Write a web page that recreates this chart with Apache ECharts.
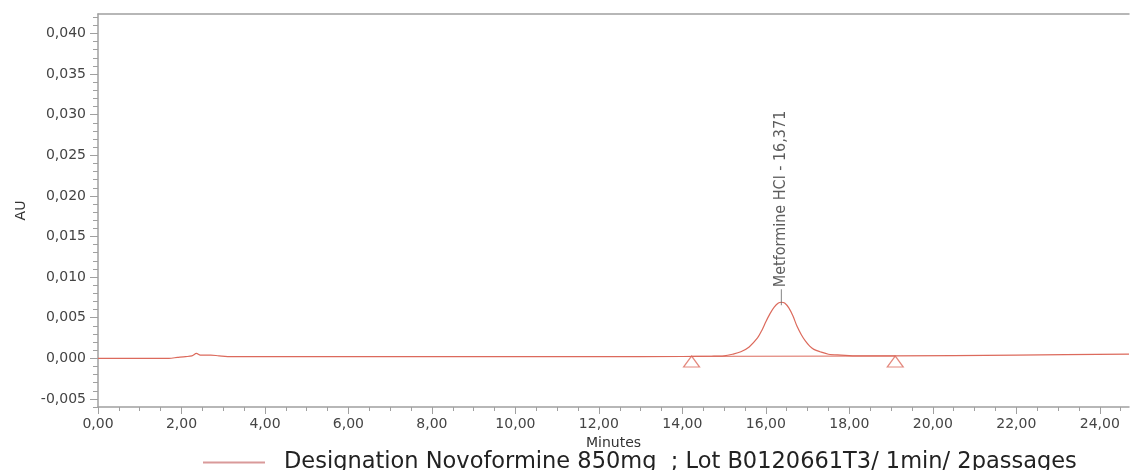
<!DOCTYPE html>
<html>
<head>
<meta charset="utf-8">
<script src="https://cdn.jsdelivr.net/npm/echarts@6/dist/echarts.min.js"></script>
<style>html,body{margin:0;padding:0;background:#fff}#c{width:1130px;height:470px}</style>
</head>
<body>
<div id="c"></div>
<script>
// ---- data ----
const seriesName = 'Designation Novoformine 850mg  ; Lot B0120661T3/ 1min/ 2passages';
const times  = [0.0, 1.0, 1.7, 1.9, 2.1, 2.25, 2.36, 2.45, 2.6, 2.7, 2.9, 3.2, 4.0, 6.0, 8.0, 10.0, 12.0, 14.0, 14.7, 15.0, 15.2, 15.4, 15.6, 15.8, 15.9, 16.0, 16.1, 16.2, 16.3, 16.371, 16.45, 16.55, 16.65, 16.75, 16.85, 16.95, 17.05, 17.15, 17.3, 17.5, 17.8, 18.2, 19.0, 22.0, 24.7];
const values = [0.0, 0.0, 0.0, 0.0001, 0.0002, 0.0003, 0.0006, 0.0004, 0.0004, 0.0004, 0.0003, 0.0002, 0.0002, 0.0002, 0.0002, 0.0002, 0.0002, 0.00022, 0.00025, 0.0003, 0.0005, 0.0008, 0.0014, 0.0025, 0.0034, 0.0045, 0.0055, 0.0063, 0.0068, 0.0069, 0.0068, 0.0062, 0.0052, 0.0039, 0.0029, 0.0021, 0.0015, 0.0011, 0.0008, 0.0005, 0.0004, 0.0003, 0.0003, 0.0004, 0.0005];
const peakTime = 16.371;
const peakHeight = 0.0069;
const peakLabel = 'Metformine HCl - 16,371';
const markerTimes = [14.22, 19.1];
const markerLevel = -0.0004;
const baselineTimes = [14.22, 19.1];
const baselineValues = [0.00024, 0.00028];
const xMajorTicks = [0, 2, 4, 6, 8, 10, 12, 14, 16, 18, 20, 22, 24];
const yMajorTicks = [-0.005, 0.0, 0.005, 0.010, 0.015, 0.020, 0.025, 0.030, 0.035, 0.040];
const xMinorTicks = []; for (let i = 0; i <= 49; i++) xMinorTicks.push(i * 0.5);
const yMinorTicks = []; for (let i = -6; i <= 42; i++) yMinorTicks.push(i / 1000);

// ---- chart ----
const lineColor = '#dc6a5c';
const axisColor = '#a0a0a0';
const labelFont = 'DejaVu Sans';
const fmtX = v => v.toFixed(2).replace('.', ',');
const fmtY = v => v.toFixed(3).replace('.', ',');
const XMIN = 0, XMAX = 24.7, YMIN = -0.006, YMAX = 0.0424;

const chart = echarts.init(document.getElementById('c'), null, {renderer: 'canvas'});
chart.setOption({
  animation: false,
  backgroundColor: '#fff',
  grid: {left: 98, right: 1, top: 14, bottom: 63, containLabel: false},
  legend: {
    show: true, left: 198, top: 446,
    itemWidth: 62, itemHeight: 2, icon: 'rect',
    data: [{name: seriesName, itemStyle: {color: '#d99a9a'}}],
    textStyle: {fontFamily: labelFont, fontSize: 22.5, color: '#222', padding: [0, 0, 0, 14]}
  },
  xAxis: [
    {
      type: 'value', min: XMIN, max: XMAX, interval: 2, position: 'bottom',
      name: 'Minutes', nameLocation: 'middle', nameGap: 28,
      nameTextStyle: {fontFamily: labelFont, fontSize: 14, color: '#333'},
      axisLine: {show: true, onZero: false, lineStyle: {color: axisColor, width: 1.5}},
      axisTick: {show: true, customValues: xMajorTicks, length: 7, lineStyle: {color: axisColor}},
      axisLabel: {show: true, customValues: xMajorTicks, formatter: fmtX, margin: 10,
        fontFamily: labelFont, fontSize: 14, color: '#444'},
      splitLine: {show: false}
    },
    {
      type: 'value', min: XMIN, max: XMAX, interval: 0.5, position: 'bottom',
      axisLine: {show: false, onZero: false},
      axisTick: {show: true, customValues: xMinorTicks, length: 4, lineStyle: {color: axisColor}},
      axisLabel: {show: false}, splitLine: {show: false}
    },
    {
      type: 'value', min: XMIN, max: XMAX, interval: 2, position: 'top',
      axisLine: {show: true, onZero: false, lineStyle: {color: axisColor, width: 1.5}},
      axisTick: {show: false}, axisLabel: {show: false}, splitLine: {show: false}
    }
  ],
  yAxis: [
    {
      type: 'value', min: YMIN, max: YMAX, interval: 0.001, position: 'left',
      name: 'AU', nameLocation: 'middle', nameGap: 70, nameRotate: 90,
      nameTextStyle: {fontFamily: labelFont, fontSize: 14, color: '#333'},
      axisLine: {show: true, onZero: false, lineStyle: {color: axisColor, width: 1.5}},
      axisTick: {show: true, customValues: yMajorTicks, length: 8, lineStyle: {color: axisColor}},
      axisLabel: {show: true, customValues: yMajorTicks, formatter: fmtY, margin: 12,
        fontFamily: labelFont, fontSize: 14, color: '#444'},
      splitLine: {show: false}
    },
    {
      type: 'value', min: YMIN, max: YMAX, interval: 0.001, position: 'left',
      axisLine: {show: false, onZero: false},
      axisTick: {show: true, customValues: yMinorTicks, length: 5, lineStyle: {color: axisColor}},
      axisLabel: {show: false}, splitLine: {show: false}
    }
  ],
  series: [
    {
      name: seriesName, type: 'line', xAxisIndex: 0, yAxisIndex: 0,
      data: times.map((t, i) => [t, values[i]]),
      showSymbol: false, symbol: 'none', smooth: 0.3,
      lineStyle: {color: lineColor, width: 1.2}, itemStyle: {color: lineColor}, z: 3
    },
    {
      name: 'baseline', type: 'line', xAxisIndex: 0, yAxisIndex: 0,
      data: baselineTimes.map((t, i) => [t, baselineValues[i]]),
      showSymbol: false, symbol: 'none',
      lineStyle: {color: lineColor, width: 1}, z: 2
    },
    {
      name: 'markers', type: 'scatter', xAxisIndex: 0, yAxisIndex: 0,
      data: markerTimes.map(t => [t, markerLevel]),
      symbol: 'triangle', symbolSize: [16, 11],
      itemStyle: {color: 'rgba(255,255,255,0)', borderColor: lineColor, borderWidth: 1.2}, z: 4
    },
    {
      name: 'peak', type: 'scatter', xAxisIndex: 0, yAxisIndex: 0,
      data: [[peakTime, peakHeight]],
      symbol: 'rect', symbolSize: [1, 16], symbolOffset: [0, -5],
      itemStyle: {color: '#666'},
      label: {
        show: true, formatter: peakLabel, position: 'top', distance: 2,
        rotate: 90, align: 'left', verticalAlign: 'middle',
        fontFamily: "'Liberation Sans Narrow', 'DejaVu Sans Condensed', sans-serif",
        fontSize: 16, color: '#333'
      }, z: 5
    }
  ]
});
</script>
</body>
</html>
